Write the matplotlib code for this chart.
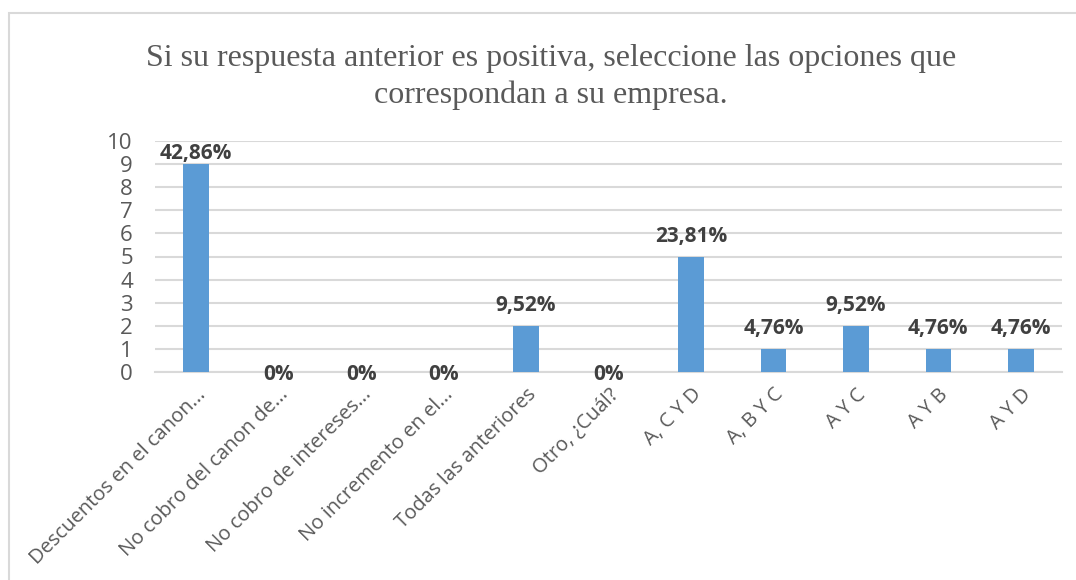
import matplotlib.pyplot as plt
from matplotlib.patches import Rectangle

# survey data
categories = ['Descuentos en el canon...', 'No cobro del canon de...',
              'No cobro de intereses...', 'No incremento en el...',
              'Todas las anteriores', 'Otro, ¿Cuál?', 'A, C Y D',
              'A, B Y C', 'A Y C', 'A Y B', 'A Y D']
counts = [9, 0, 0, 0, 2, 0, 5, 1, 2, 1, 1]
pct_labels = ['42,86%', '0%', '0%', '0%', '9,52%', '0%', '23,81%',
              '4,76%', '9,52%', '4,76%', '4,76%']

title = 'Si su respuesta anterior es positiva, seleccione las opciones que\ncorrespondan a su empresa.'

W, H = 1076, 580
fig = plt.figure(figsize=(W / 100, H / 100), dpi=100)

# chart frame (runs off the right and bottom edge)
fig.patches.append(Rectangle((9 / W, -0.1), 1.2, (H - 13) / H + 0.1,
                             transform=fig.transFigure, fill=False,
                             edgecolor='#d9d9d9', linewidth=1.5))

ax = fig.add_axes([155 / W, 208 / H, 907 / W, 231 / H])
x = list(range(len(categories)))
ax.bar(x, counts, width=0.31, color='#5b9bd5', zorder=3)

for xi, v, lab in zip(x, counts, pct_labels):
    if v == 0:
        ax.annotate(lab, (xi, 0), xytext=(0, -2), textcoords='offset points',
                    ha='center', va='center', fontsize=15, fontweight='bold',
                    color='#404040', family='Open Sans', zorder=4)
    else:
        off = 0 if v >= 9 else 7
        ax.annotate(lab, (xi, v), xytext=(0, off), textcoords='offset points',
                    ha='center', va='bottom', fontsize=15, fontweight='bold',
                    color='#404040', family='Open Sans', zorder=4)

ax.set_xlim(-0.5, len(categories) - 0.5)
ax.set_ylim(0, 10)
ax.set_yticks(range(0, 11))
ax.yaxis.grid(True, color='#d9d9d9', linewidth=1.5, zorder=0)
for s in ['top', 'right', 'left']:
    ax.spines[s].set_visible(False)
ax.spines['bottom'].set_color('#d9d9d9')
ax.spines['bottom'].set_linewidth(1.5)
ax.tick_params(axis='both', length=0, colors='#595959')
ax.tick_params(axis='y', pad=16, labelsize=16)
ax.tick_params(axis='x', pad=9, labelsize=14.5)
ax.set_xticks(x)
ax.set_xticklabels(categories, rotation=45, ha='right',
                   rotation_mode='anchor', family='Open Sans')
for t in ax.get_yticklabels():
    t.set_family('Open Sans')

fig.text(551 / W, 1 - 77 / H, title, ha='center', va='center',
         fontsize=23, color='#595959', family='Liberation Serif',
         linespacing=1.35)

fig.savefig('out.png', dpi=100)
